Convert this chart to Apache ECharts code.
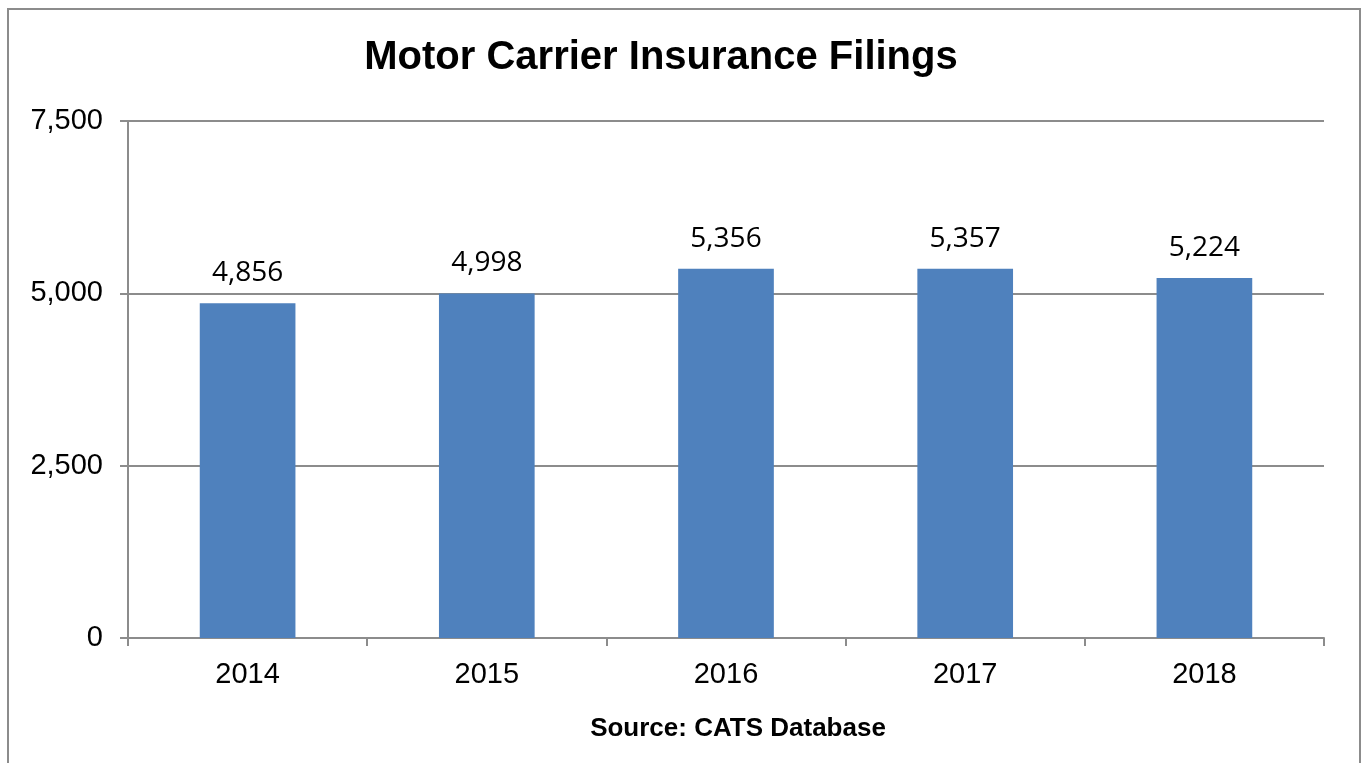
<!DOCTYPE html>
<html>
<head>
<meta charset="utf-8">
<script src="https://cdn.jsdelivr.net/npm/echarts@6/dist/echarts.min.js"></script>
<style>
html,body{margin:0;padding:0;background:#fff;}
#main{width:1365px;height:763px;}
</style>
</head>
<body>
<div id="main"></div>
<script>
var years = ['2014', '2015', '2016', '2017', '2018'];
var filings = [4856, 4998, 5356, 5357, 5224];
var yTicks = [0, 2500, 5000, 7500];

var chart = echarts.init(document.getElementById('main'));
var option = {
	backgroundColor: '#fff',
	animation: false,
	title: [
		{
			text: 'Motor Carrier Insurance Filings',
			left: 656,
			top: 33,
			textAlign: 'center',
			textStyle: {fontFamily: 'Liberation Sans', fontSize: 40, fontWeight: 'bold', color: '#000'}
		},
		{
			text: 'Source: CATS Database',
			left: 733,
			top: 711,
			textAlign: 'center',
			textStyle: {fontFamily: 'Liberation Sans', fontSize: 26, fontWeight: 'bold', color: '#000'}
		}
	],
	// rahmen um die ganze grafik
	graphic: [{
		type: 'rect',
		shape: {x: 8, y: 9, width: 1352, height: 770},
		style: {fill: 'none', stroke: '#8c8c8c', lineWidth: 2},
		silent: true
	}],
	grid: {left: 128, right: 41, top: 121, bottom: 125},
	xAxis: {
		type: 'category',
		data: years,
		axisLine: {lineStyle: {color: '#8c8c8c', width: 2}},
		axisTick: {show: true, length: 8, lineStyle: {color: '#8c8c8c', width: 2}},
		axisLabel: {margin: 22, fontFamily: 'Liberation Sans', fontSize: 29, color: '#000'}
	},
	yAxis: {
		type: 'value',
		min: yTicks[0],
		max: yTicks[yTicks.length - 1],
		interval: 2500,
		axisLine: {show: true, lineStyle: {color: '#8c8c8c', width: 2}},
		axisTick: {show: true, length: 8, lineStyle: {color: '#8c8c8c', width: 2}},
		splitLine: {lineStyle: {color: '#8c8c8c', width: 2}},
		axisLabel: {
			margin: 25,
			fontFamily: 'Liberation Sans',
			fontSize: 29,
			color: '#000',
			formatter: function (v) { return v.toLocaleString('en-US'); }
		}
	},
	series: [{
		type: 'bar',
		data: filings,
		barWidth: '40%',
		itemStyle: {color: '#4f81bd'},
		label: {
			show: true,
			position: 'top',
			distance: 16,
			fontFamily: 'Open Sans',
			fontSize: 28,
			color: '#000',
			formatter: function (p) { return p.value.toLocaleString('en-US'); }
		}
	}]
};
chart.setOption(option);
</script>
</body>
</html>
